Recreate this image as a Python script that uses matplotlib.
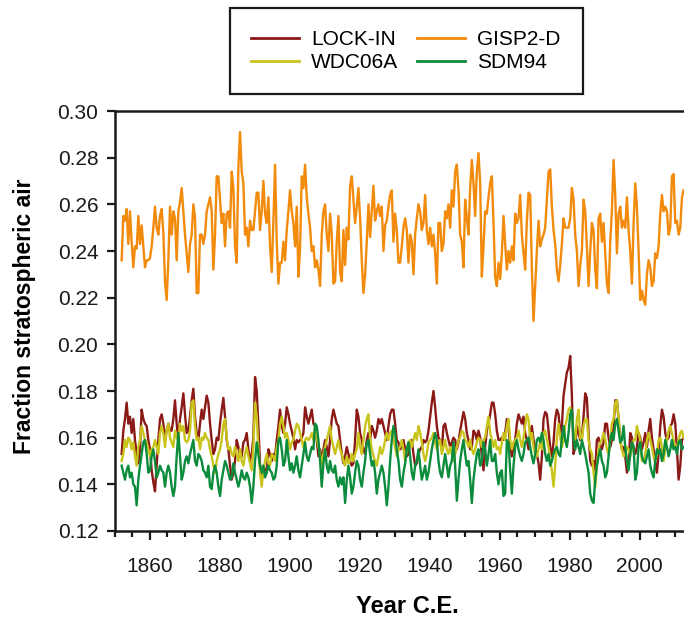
import numpy as np
import matplotlib
matplotlib.use("Agg")
import matplotlib.pyplot as plt
from matplotlib.ticker import MultipleLocator

plt.rcParams["font.family"] = ["Liberation Sans", "DejaVu Sans"]

# sampled every ~0.48 yr from 1851.9 to 2012.6, values in 1/1000 (fraction x 1000)
SAMPLE_START, SAMPLE_END = 1851.9, 2012.6

GISP2_D = [
    236, 255, 253, 258, 243, 257, 244, 233, 242, 241,
    255, 243, 251, 242, 233, 236, 236, 237, 242, 250,
    259, 250, 247, 255, 258, 248, 227, 219, 236, 259,
    247, 257, 254, 236, 257, 261, 267, 257, 247, 239,
    231, 243, 247, 260, 254, 222, 222, 247, 247, 243,
    247, 257, 260, 263, 257, 232, 247, 272, 272, 262,
    252, 256, 242, 256, 257, 250, 274, 267, 242, 235,
    276, 291, 274, 269, 247, 250, 242, 253, 249, 249,
    257, 265, 265, 249, 257, 270, 256, 252, 263, 242,
    231, 253, 277, 244, 226, 235, 235, 244, 236, 249,
    257, 266, 257, 252, 242, 259, 229, 241, 272, 267,
    277, 263, 256, 250, 240, 242,
    233, 236, 232, 225, 247, 257, 260, 247, 240, 256,
    247, 226, 227, 244, 255, 231, 227, 249, 234, 250,
    245, 268, 272, 262, 252, 259, 267, 254, 236, 222,
    230, 244, 260, 246, 257, 268, 253, 257, 260, 255,
    259, 240, 251, 253, 259, 264, 266, 244, 256, 249,
    235, 235, 242, 250, 254, 249, 235, 247, 244, 230,
    247, 254, 260, 257, 249, 252, 264, 249, 243, 250,
    242, 247, 239, 226, 252, 252, 240, 243, 257, 254,
    260, 250, 266, 259, 274, 277, 266, 247, 244, 233,
    262, 254, 247, 267, 279, 269, 255, 274, 282, 269,
    229, 242, 257, 256, 263, 269, 272, 252, 229, 225,
    235,
    228, 239, 255, 243, 232, 240, 235, 242, 236, 256,
    252, 254, 264, 247, 239, 232, 253, 265, 264, 233,
    210, 225, 240, 253, 242, 245, 247, 250, 262, 274,
    275, 259, 249, 243, 232, 227, 234, 243, 254, 250,
    250, 250, 254, 267, 262, 247, 240, 225, 234, 240,
    262, 257, 242, 225, 240, 252, 249, 232, 224, 254,
    256, 244, 252, 239, 226, 222, 244, 257, 279, 264,
    239, 256, 259, 250, 253, 250, 263, 249, 240, 226,
    252, 269, 259, 240, 219, 223, 219, 217, 230, 236,
    233, 225, 227, 239, 237, 242, 256, 264, 257, 259,
    257, 247, 250, 272, 273, 252, 253, 247, 250, 263,
    266,
]

LOCK_IN = [
    153, 163, 168, 175, 166, 169, 162, 168, 159, 153,
    149, 155, 172, 168, 166, 165, 159, 155, 146, 141,
    137, 148, 159, 168, 170, 166, 160, 163, 166, 163,
    163, 168, 176, 166, 159, 168, 173, 179, 170, 162,
    163, 169, 176, 181, 169, 162, 159, 166, 172, 168,
    173, 178, 175, 166, 159, 153, 155, 160, 159, 166,
    172, 177, 169, 159, 155, 148, 142, 145, 150, 159,
    156, 152, 152, 158, 159, 162, 155, 150, 153, 160,
    186, 180, 165, 148, 142, 148, 146, 145, 155, 153,
    150, 153, 152, 159, 165, 172, 165, 162, 166, 173,
    170, 166, 163, 160, 155, 159, 158, 159, 160, 162,
    173, 169, 166, 169, 172, 166,
    165, 159, 152, 155, 150, 155, 159, 156, 152, 159,
    168, 172, 169, 166, 165, 159, 153, 149, 152, 156,
    153, 150, 148, 149, 159, 172, 169, 162, 159, 155,
    153, 159, 162, 159, 165, 163, 160, 163, 168, 166,
    168, 165, 162, 159, 165, 170, 172, 172, 166, 159,
    158, 155, 156, 159, 155, 152, 153, 158, 159, 153,
    148, 149, 153, 155, 156, 159, 158, 159, 163, 169,
    175, 180, 173, 165, 160, 159, 155, 165, 166, 162,
    159, 156, 158, 160, 159, 155, 158, 163, 167, 171,
    168, 162, 159, 155, 156, 163, 162, 159, 163, 160,
    152, 146, 156, 163, 166, 170, 175, 175, 170, 163,
    159,
    159, 160, 159, 162, 168, 165, 156, 152, 156, 159,
    166, 170, 168, 166, 169, 162, 159, 155, 162, 165,
    159, 155, 153, 149, 142, 152, 168, 171, 170, 163,
    156, 152, 158, 168, 172, 170, 162, 165, 178, 183,
    188, 190, 195, 178, 153, 156, 165, 162, 159, 160,
    169, 179, 177, 162, 150, 148, 150, 146, 159, 160,
    157, 155, 158, 166, 166, 160, 156, 159, 165, 176,
    176, 168, 159, 155, 156, 152, 145, 149, 162, 160,
    155, 153, 156, 162, 160, 155, 158, 162, 156, 163,
    168, 160, 155, 149, 145, 153, 165, 172, 169, 162,
    159, 160, 165, 166, 170, 166, 155, 142, 148, 159,
    160,
]

WDC06A = [
    150, 153, 159, 156, 160, 159, 155, 158, 152, 148,
    156, 159, 165, 162, 159, 158, 155, 152, 155, 156,
    159, 156, 153, 162, 165, 162, 156, 163, 166, 160,
    158, 156, 163, 160, 159, 166, 163, 165, 159, 158,
    159, 163, 175, 176, 165, 159, 160, 155, 160, 159,
    162, 160, 159, 155, 152, 148, 145, 150, 153, 155,
    159, 166, 168, 160, 155, 156, 153, 152, 156, 153,
    150, 155, 150, 148, 153, 156, 152, 149, 146, 156,
    175, 169, 155, 145, 139, 146, 150, 153, 149, 148,
    153, 152, 150, 156, 159, 166, 169, 165, 160, 162,
    159, 155, 158, 159, 163, 166, 165, 162, 159, 156,
    159, 160, 159, 160, 162, 159,
    165, 160, 156, 153, 148, 153, 156, 159, 162, 165,
    159, 156, 153, 156, 159, 155, 153, 150, 148, 152,
    149, 150, 153, 150, 153, 155, 162, 156, 153, 159,
    165, 168, 170, 160, 155, 152, 150, 148, 152, 156,
    153, 155, 159, 162, 159, 162, 163, 159, 156, 152,
    155, 156, 159, 155, 150, 155, 158, 159, 156, 159,
    162, 159, 165, 162, 158, 153, 150, 153, 158, 159,
    160, 162, 158, 155, 158, 159, 153, 156, 159, 155,
    153, 156, 153, 150, 153, 156, 159, 160, 163, 162,
    159, 158, 156, 159, 155, 153, 155, 158, 160, 159,
    156, 159, 160, 165, 169, 162, 159, 156, 159, 155,
    156,
    153, 158, 162, 159, 165, 168, 159, 155, 158, 159,
    160, 163, 159, 156, 160, 165, 170, 168, 159, 162,
    156, 153, 152, 155, 158, 155, 162, 163, 159, 156,
    150, 146, 139, 148, 160, 166, 160, 156, 159, 165,
    168, 172, 173, 170, 162, 159, 168, 172, 160, 159,
    165, 168, 168, 159, 155, 153, 145, 139, 148, 155,
    158, 159, 162, 159, 155, 153, 159, 166, 168, 175,
    176, 168, 159, 155, 152, 153, 156, 155, 152, 155,
    159, 159, 165, 162, 159, 150, 150, 153, 159, 162,
    159, 156, 152, 150, 153, 159, 160, 156, 150, 155,
    159, 163, 165, 162, 159, 155, 156, 159, 162, 163,
    160,
]

SDM94 = [
    148, 145, 142, 146, 148, 143, 145, 140, 139, 131,
    142, 148, 153, 158, 159, 153, 145, 146, 152, 155,
    150, 143, 145, 148, 146, 145, 139, 145, 148, 145,
    139, 135, 139, 152, 162, 152, 142, 145, 150, 152,
    149, 153, 156, 159, 150, 148, 153, 152, 150, 146,
    145, 143, 148, 139, 138, 145, 148, 145, 139, 135,
    142, 146, 150, 148, 145, 142, 143, 149, 145, 142,
    139, 142, 146, 143, 142, 145, 143, 139, 132, 139,
    150, 158, 153, 148, 145, 148, 143, 145, 148, 146,
    145, 142, 143, 148, 159, 160, 155, 148, 150, 159,
    152, 146, 149, 145, 148, 152, 146, 143, 148, 153,
    158, 152, 150, 153, 156, 155,
    166, 165, 159, 150, 139, 149, 155, 148, 145, 150,
    146, 145, 148, 142, 139, 143, 140, 143, 132, 142,
    148, 143, 136, 139, 145, 150, 148, 142, 139, 145,
    150, 158, 159, 153, 148, 150, 145, 136, 142, 145,
    148, 145, 139, 131, 139, 150, 159, 165, 162, 155,
    150, 142, 139, 145, 149, 155, 158, 152, 145, 142,
    148, 150, 155, 148, 142, 145, 148, 142, 145, 150,
    155, 159, 162, 159, 150, 145, 143, 148, 153, 148,
    143, 148, 150, 158, 148, 133, 142, 150, 155, 159,
    153, 148, 150, 142, 132, 142, 148, 153, 155, 148,
    150, 158, 155, 148, 153, 159, 150, 150, 153, 145,
    140,
    145, 146, 135, 136, 159, 158, 146, 136, 148, 156,
    159, 155, 152, 150, 153, 158, 159, 160, 156, 152,
    149, 153, 159, 160, 158, 162, 159, 153, 150, 153,
    148, 150, 153, 155, 156, 153, 152, 160, 165, 159,
    156, 162, 170, 172, 159, 155, 159, 156, 153, 159,
    156, 153, 149, 145, 136, 133, 132, 142, 148, 152,
    155, 150, 148, 143, 145, 152, 159, 162, 159, 166,
    168, 163, 158, 159, 165, 156, 150, 146, 153, 158,
    156, 142, 145, 156, 158, 152, 150, 149, 152, 155,
    148, 145, 143, 150, 155, 153, 155, 150, 153, 159,
    156, 152, 155, 159, 155, 156, 153, 158, 159, 155,
    156,
]

# (label, values, colour) in drawing order
SERIES = [
    ("GISP2-D", GISP2_D, "#f28a0c"),
    ("LOCK-IN", LOCK_IN, "#8b1a17"),
    ("WDC06A", WDC06A, "#c9c41c"),
    ("SDM94", SDM94, "#0b8c3c"),
]
LEGEND_ORDER = ["LOCK-IN", "WDC06A", "GISP2-D", "SDM94"]


def main():
    fig = plt.figure(figsize=(6.84, 6.23), dpi=100)
    ax = fig.add_axes([115 / 684, 92 / 623, 577 / 684, 420 / 623])

    lines = {}
    for label, vals, color in SERIES:
        y = np.asarray(vals, dtype=float) / 1000.0
        x = np.linspace(SAMPLE_START, SAMPLE_END, len(y))
        (ln,) = ax.plot(x, y, color=color, lw=1.7, label=label, solid_joinstyle="round")
        lines[label] = ln

    ax.set_xlim(1850, 2015)
    ax.set_ylim(0.12, 0.30)
    ax.set_xticks(np.arange(1860, 2001, 20))
    ax.xaxis.set_minor_locator(MultipleLocator(5))
    ax.set_yticks(np.arange(0.12, 0.301, 0.02))
    ax.yaxis.set_major_formatter(plt.FormatStrFormatter("%.2f"))

    for side in ("left", "bottom", "top", "right"):
        ax.spines[side].set_linewidth(1.8)
        ax.spines[side].set_color("#1a1a1a")
    ax.tick_params(axis="both", which="both", direction="out", colors="#1a1a1a",
                   labelsize=15, width=1.6)
    ax.tick_params(axis="x", which="major", length=6.5, pad=12)
    ax.tick_params(axis="x", which="minor", length=4.5)
    ax.tick_params(axis="y", which="major", length=5.5, pad=6.5)

    ax.set_xlabel("Year C.E.", fontsize=17, fontweight="bold", va="center")
    ax.xaxis.set_label_coords(0.506, -0.18)
    ax.set_ylabel("Fraction stratospheric air", fontsize=16.5, fontweight="bold", va="center")
    ax.yaxis.set_label_coords(-0.156, 0.512)

    leg = ax.legend([lines[k] for k in LEGEND_ORDER], LEGEND_ORDER, ncol=2,
                    loc="lower center", bbox_to_anchor=(406 / 684, 1 - 94 / 623),
                    bbox_transform=fig.transFigure, borderaxespad=0,
                    fontsize=15, handlelength=2.3, handletextpad=0.58,
                    columnspacing=0.9, borderpad=1.05, labelspacing=0.2,
                    fancybox=False, framealpha=1, edgecolor="#1a1a1a")
    leg.get_frame().set_linewidth(1.6)
    for h in leg.get_lines():
        h.set_linewidth(2)

    fig.savefig("out.png", dpi=100)
    plt.close(fig)


if __name__ == "__main__":
    main()
